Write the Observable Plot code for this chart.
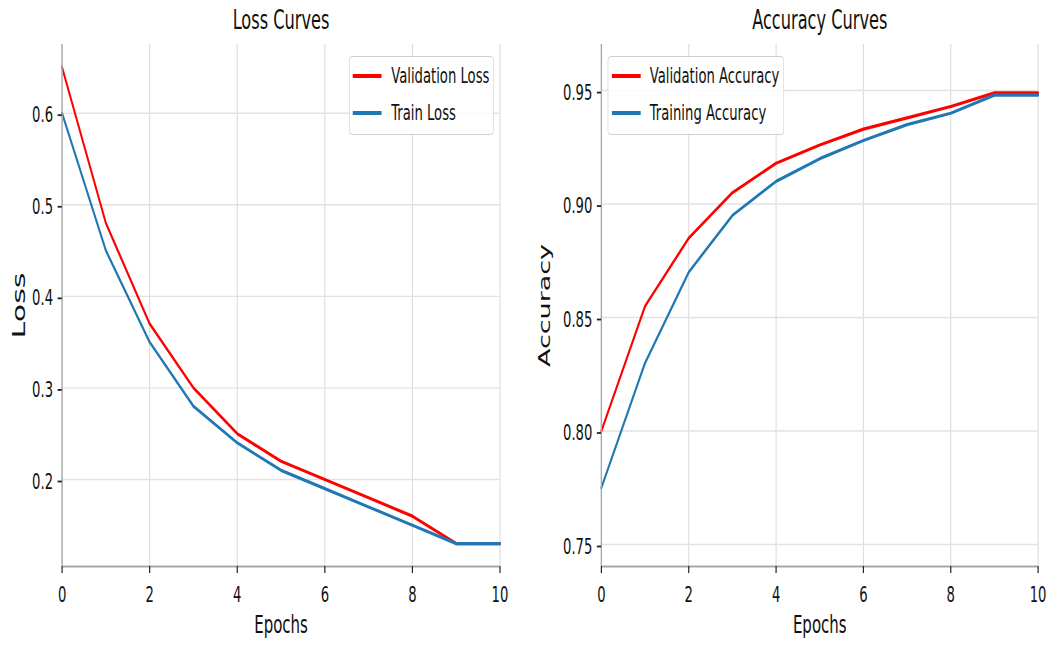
<!DOCTYPE html>
<html>
<head>
<meta charset="utf-8">
<script src="https://cdn.jsdelivr.net/npm/d3@7"></script>
<script src="https://cdn.jsdelivr.net/npm/@observablehq/plot@0.6"></script>
<style>
  html, body { margin: 0; padding: 0; background: #fff; }
  #clip { width: 1051px; height: 646px; overflow: hidden; position: relative; background: #fff; }
  #stage { position: absolute; left: 0; top: 0; width: 1752px; height: 646px;
           transform: scaleX(0.59989); transform-origin: 0 0; font-family: "DejaVu Sans", sans-serif; }
  .panel { position: absolute; top: 0; }
  .legend { position: absolute; border: 1.6px solid #cfcfcf; border-radius: 7px / 4px;
            background: rgba(255,255,255,0.85); box-sizing: border-box; }
  .legend .sw { position: absolute; height: 3.5px; }
  .legend .lb { position: absolute; font-size: 22px; color: #111; white-space: nowrap; line-height: 26px; }
</style>
</head>
<body>
<div id="clip"><div id="stage"></div></div>
<script>
// ---- data ----
const epochs = [0, 1, 2, 3, 4, 5, 6, 7, 8, 9, 10];
const valLoss = [0.65, 0.48, 0.37, 0.30, 0.25, 0.22, 0.20, 0.18, 0.16, 0.13, 0.13];
const trainLoss = [0.60, 0.45, 0.35, 0.28, 0.24, 0.21, 0.19, 0.17, 0.15, 0.13, 0.13];
const valAcc = [0.800, 0.855, 0.885, 0.905, 0.918, 0.926, 0.933, 0.938, 0.943, 0.949, 0.949];
const trainAcc = [0.775, 0.830, 0.870, 0.895, 0.910, 0.920, 0.928, 0.935, 0.940, 0.948, 0.948];
const xTicks = [0, 2, 4, 6, 8, 10];
const lossTicks = [0.2, 0.3, 0.4, 0.5, 0.6];
const accTicks = [0.75, 0.80, 0.85, 0.90, 0.95];
const lossLabels = ["Validation Loss", "Train Loss"];
const accLabels = ["Validation Accuracy", "Training Accuracy"];
const titles = ["Loss Curves", "Accuracy Curves"];
const xLabel = "Epochs";
const yLabels = ["Loss", "Accuracy"];
const colors = ["#ff0000", "#1f77b4"];

const stage = document.getElementById("stage");

function makePanel({left, marginLeft, marginRight, yDomain, yTicks, yFmt, series, title, yLabel, yLabelSize, yLabelDx}) {
  const rows = series.map(s => epochs.map((e, i) => ({epoch: e, value: s[i]})));
  const chart = Plot.plot({
    width: 876,
    height: 646,
    marginLeft, marginRight,
    marginTop: 44,
    marginBottom: 80,
    style: {fontFamily: "DejaVu Sans, sans-serif", fontSize: "22px", background: "transparent", overflow: "visible", color: "#111"},
    x: {domain: [0, 10]},
    y: {domain: yDomain},
    marks: [
      Plot.gridX(xTicks, {stroke: "#dcdcdc", strokeOpacity: 1, strokeWidth: 1.8}),
      Plot.gridY(yTicks, {stroke: "#e2e2e2", strokeOpacity: 1, strokeWidth: 1.4}),
      ...rows.map((r, i) => Plot.line(r, {x: "epoch", y: "value", stroke: colors[i], strokeWidth: 3.2})),
      Plot.ruleX([0], {stroke: "#a8a8a8", strokeWidth: 2.2}),
      Plot.ruleY([yDomain[0]], {stroke: "#a8a8a8", strokeWidth: 2.2}),
      Plot.axisX({ticks: xTicks, tickSize: 7, tickPadding: 13, stroke: "#222", strokeWidth: 2, label: null, fontSize: 22}),
      Plot.axisY({ticks: yTicks, tickFormat: d3.format(yFmt), tickSize: 7, tickPadding: 8, stroke: "#222", strokeWidth: 1.8, label: null, fontSize: 22, dy: 2}),
      Plot.text([title], {text: d => d, frameAnchor: "top", textAnchor: "middle", dy: -24, fontSize: 27, lineAnchor: "middle", fill: "#111"}),
      Plot.text([xLabel], {text: d => d, frameAnchor: "bottom", textAnchor: "middle", dy: 58, fontSize: 25, lineAnchor: "middle", fill: "#111"}),
      Plot.text([yLabel], {text: d => d, frameAnchor: "left", textAnchor: "middle", dx: yLabelDx, rotate: -90, fontSize: yLabelSize, lineAnchor: "middle", fill: "#111"})
    ]
  });
  chart.classList.add("panel");
  chart.style.left = left + "px";
  stage.appendChild(chart);
}

function makeLegend({left, top, width, height, labels, swLeft, txtLeft, rowYs}) {
  const box = document.createElement("div");
  box.className = "legend";
  Object.assign(box.style, {left: left + "px", top: top + "px", width: width + "px", height: height + "px"});
  labels.forEach((lab, i) => {
    const sw = document.createElement("div");
    sw.className = "sw";
    Object.assign(sw.style, {left: swLeft + "px", width: "48px", top: (rowYs[i] - 1.75) + "px", background: colors[i]});
    const lb = document.createElement("div");
    lb.className = "lb";
    lb.textContent = lab;
    Object.assign(lb.style, {left: txtLeft + "px", top: (rowYs[i] - 13) + "px"});
    box.appendChild(sw);
    box.appendChild(lb);
  });
  stage.appendChild(box);
}

makePanel({left: 0, marginLeft: 103, marginRight: 43, yDomain: [0.105, 0.675], yTicks: lossTicks, yFmt: ".1f",
  series: [valLoss, trainLoss], title: titles[0], yLabel: yLabels[0], yLabelSize: 30, yLabelDx: -71});
makePanel({left: 876, marginLeft: 126, marginRight: 22, yDomain: [0.7403, 0.9703], yTicks: accTicks, yFmt: ".2f",
  series: [valAcc, trainAcc], title: titles[1], yLabel: yLabels[1], yLabelSize: 27, yLabelDx: -94});

makeLegend({left: 582, top: 56, width: 241, height: 79, labels: lossLabels, swLeft: 5, txtLeft: 69, rowYs: [19, 56]});
makeLegend({left: 1013, top: 56, width: 294, height: 79, labels: accLabels, swLeft: 6, txtLeft: 69, rowYs: [19, 56]});
</script>
</body>
</html>
